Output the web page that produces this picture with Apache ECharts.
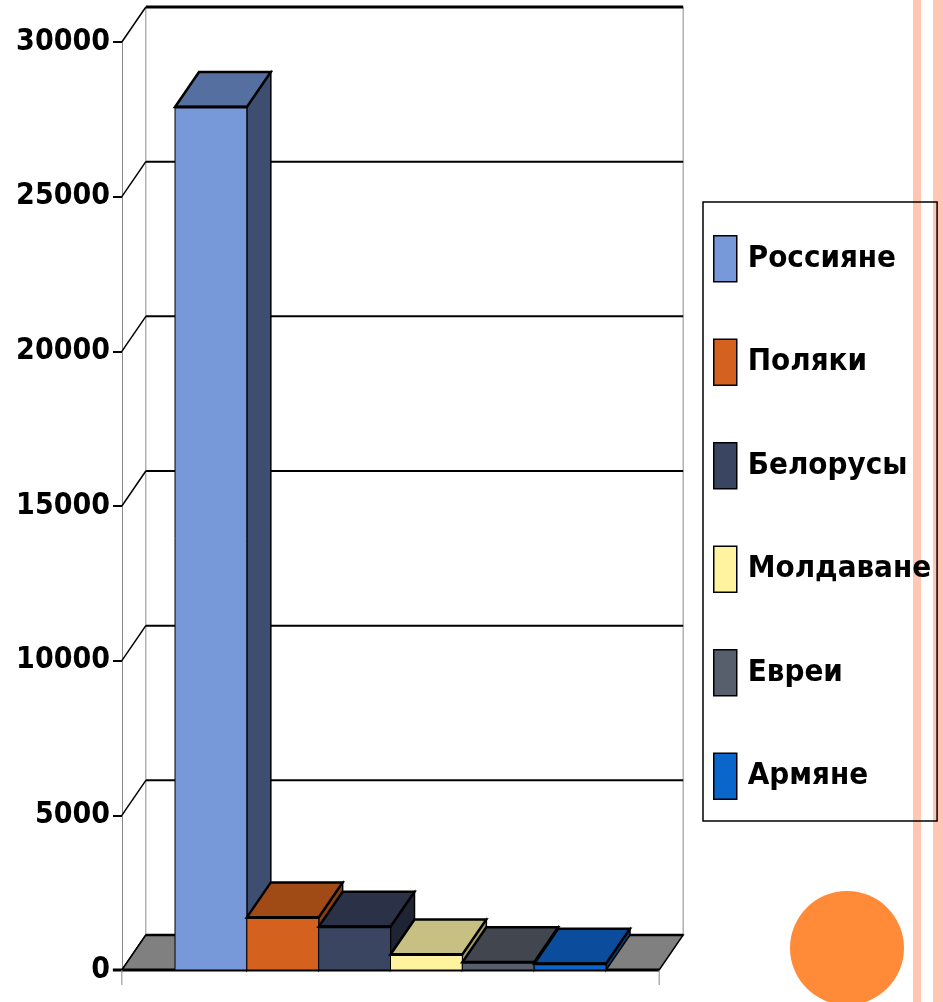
<!DOCTYPE html>
<html>
<head>
<meta charset="utf-8">
<script src="https://cdn.jsdelivr.net/npm/echarts@6/dist/echarts.min.js"></script>
<style>
  html, body { margin: 0; padding: 0; background: #fff; }
  #main { width: 943px; height: 1002px; }
</style>
</head>
<body>
<div id="main"></div>
<script>
var categories = ['Россияне', 'Поляки', 'Белорусы', 'Молдаване', 'Евреи', 'Армяне'];
var values = [27900, 1700, 1400, 500, 250, 200];
var yTicks = [0, 5000, 10000, 15000, 20000, 25000, 30000];

var frontColors = ['#7799d9', '#d4621e', '#3a4562', '#fff3a0', '#575e6c', '#0b66cc'];
var topColors = ['#5570a0', '#a04a16', '#2b3146', '#c8bf82', '#41464f', '#0b4c9c'];
var sideColors = ['#3e4e70', '#86400f', '#1f2434', '#a39c6a', '#31353d', '#083c7a'];

var DX = 24, DY = 35;   // depth of the fake 3d
var GAP = 0.74;         // floor overhang, in bands
var FONT = "'DejaVu Sans Condensed', 'DejaVu Sans', sans-serif";

var myChart = echarts.init(document.getElementById('main'));

function renderFrame(params, api) {
    var bw = api.size([1, 0])[0];
    var left = api.coord([0, 0])[0] - bw / 2 - GAP * bw;
    var right = api.coord([categories.length - 1, 0])[0] + bw / 2 + GAP * bw;
    var y0 = api.coord([0, 0])[1];
    var yTop = api.coord([0, yTicks[yTicks.length - 1]])[1];
    var kids = [];
    kids.push({
        type: 'rect',
        shape: { x: left + DX, y: yTop - DY, width: right - left, height: y0 - yTop },
        style: { fill: '#fff', stroke: '#8a8a8a', lineWidth: 1 }
    });
    yTicks.forEach(function (t) {
        var y = api.coord([0, t])[1];
        if (t > 0) {
            kids.push({
                type: 'line',
                shape: { x1: left + DX, y1: y - DY, x2: right + DX, y2: y - DY },
                style: { stroke: '#000', lineWidth: t === yTicks[yTicks.length - 1] ? 3 : 2 }
            });
        }
        kids.push({
            type: 'line',
            shape: { x1: left, y1: y, x2: left + DX, y2: y - DY },
            style: { stroke: '#000', lineWidth: 1.5 }
        });
    });
    kids.push({
        type: 'polygon',
        shape: { points: [[left, y0], [right, y0], [right + DX, y0 - DY], [left + DX, y0 - DY]] },
        style: { fill: '#808080', stroke: '#000', lineWidth: 1.5 }
    });
    kids.push({
        type: 'line',
        shape: { x1: left + DX, y1: y0 - DY, x2: right + DX, y2: y0 - DY },
        style: { stroke: '#000', lineWidth: 2.5 }
    });
    kids.push({
        type: 'line',
        shape: { x1: left - 9, y1: y0, x2: right, y2: y0 },
        style: { stroke: '#000', lineWidth: 3 }
    });
    kids.push({
        type: 'line',
        shape: { x1: left, y1: y0, x2: left, y2: y0 + 15 },
        style: { stroke: '#888', lineWidth: 1 }
    });
    kids.push({
        type: 'line',
        shape: { x1: right, y1: y0, x2: right, y2: y0 + 15 },
        style: { stroke: '#888', lineWidth: 1 }
    });
    return { type: 'group', children: kids };
}

function renderBar(params, api) {
    var i = api.value(0);
    var bw = api.size([1, 0])[0];
    var c = api.coord([i, api.value(1)]);
    var b = api.coord([i, 0]);
    var x0 = c[0] - bw / 2, x1 = c[0] + bw / 2, yt = c[1], yb = b[1];
    var k = params.seriesIndex - 1;
    return {
        type: 'group',
        children: [
            {
                type: 'polygon',
                shape: { points: [[x1, yt], [x1 + DX, yt - DY], [x1 + DX, yb - DY], [x1, yb]] },
                style: { fill: sideColors[k], stroke: '#000', lineWidth: 1.5 }
            },
            {
                type: 'polygon',
                shape: { points: [[x0, yt], [x1, yt], [x1 + DX, yt - DY], [x0 + DX, yt - DY]] },
                style: { fill: topColors[k], stroke: '#000', lineWidth: 2.5 }
            },
            {
                type: 'rect',
                shape: { x: x0, y: yt, width: bw, height: yb - yt },
                style: { fill: frontColors[k], stroke: '#000', lineWidth: 1 }
            },
            {
                type: 'line',
                shape: { x1: x0, y1: yt, x2: x1, y2: yt },
                style: { stroke: '#000', lineWidth: 3 }
            }
        ]
    };
}

var series = [{
    name: 'frame',
    type: 'custom',
    z: 1,
    silent: true,
    renderItem: renderFrame,
    data: [[0, 0]]
}];
categories.forEach(function (name, i) {
    series.push({
        name: name,
        type: 'custom',
        z: 2,
        renderItem: renderBar,
        itemStyle: { color: frontColors[i], borderColor: '#000', borderWidth: 1.5 },
        encode: { x: 0, y: 1 },
        data: [[i, values[i]]]
    });
});

var option = {
    animation: false,
    grid: { left: 175, right: 337, top: 42, bottom: 32, outerBoundsMode: 'none' },
    legend: {
        data: categories,
        orient: 'vertical',
        left: 703,
        top: 202,
        icon: 'rect',
        itemWidth: 23,
        itemHeight: 46,
        itemGap: 56,
        padding: [33, 6, 21, 10],
        borderColor: '#000',
        borderWidth: 1.5,
        itemStyle: { borderColor: '#000', borderWidth: 1.5 },
        textStyle: {
            fontFamily: FONT,
            fontWeight: 'bold',
            fontSize: 31,
            lineHeight: 46,
            color: '#000',
            padding: [0, 0, 0, 6]
        }
    },
    xAxis: {
        type: 'category',
        data: categories,
        axisLine: { show: false },
        axisTick: { show: false },
        axisLabel: { show: false }
    },
    yAxis: {
        type: 'value',
        min: 0,
        max: 30000,
        interval: 5000,
        offset: 53,
        axisLine: { show: true, lineStyle: { color: '#888', width: 1 } },
        axisTick: { show: true, length: 9, lineStyle: { color: '#000', width: 2 } },
        splitLine: { show: false },
        axisLabel: {
            margin: 12,
            fontFamily: FONT,
            fontWeight: 'bold',
            fontSize: 30,
            color: '#000',
            formatter: function (v) { return String(v); }
        }
    },
    graphic: [
        { type: 'rect', shape: { x: 913, y: 0, width: 8, height: 1002 }, style: { fill: '#ffc7b3' }, z: 0 },
        { type: 'rect', shape: { x: 933, y: 0, width: 10, height: 1002 }, style: { fill: '#ffc7b3' }, z: 0 },
        { type: 'circle', shape: { cx: 847, cy: 948, r: 57 }, style: { fill: '#ff8a38' }, z: 0 }
    ],
    series: series
};

myChart.setOption(option);
</script>
</body>
</html>
